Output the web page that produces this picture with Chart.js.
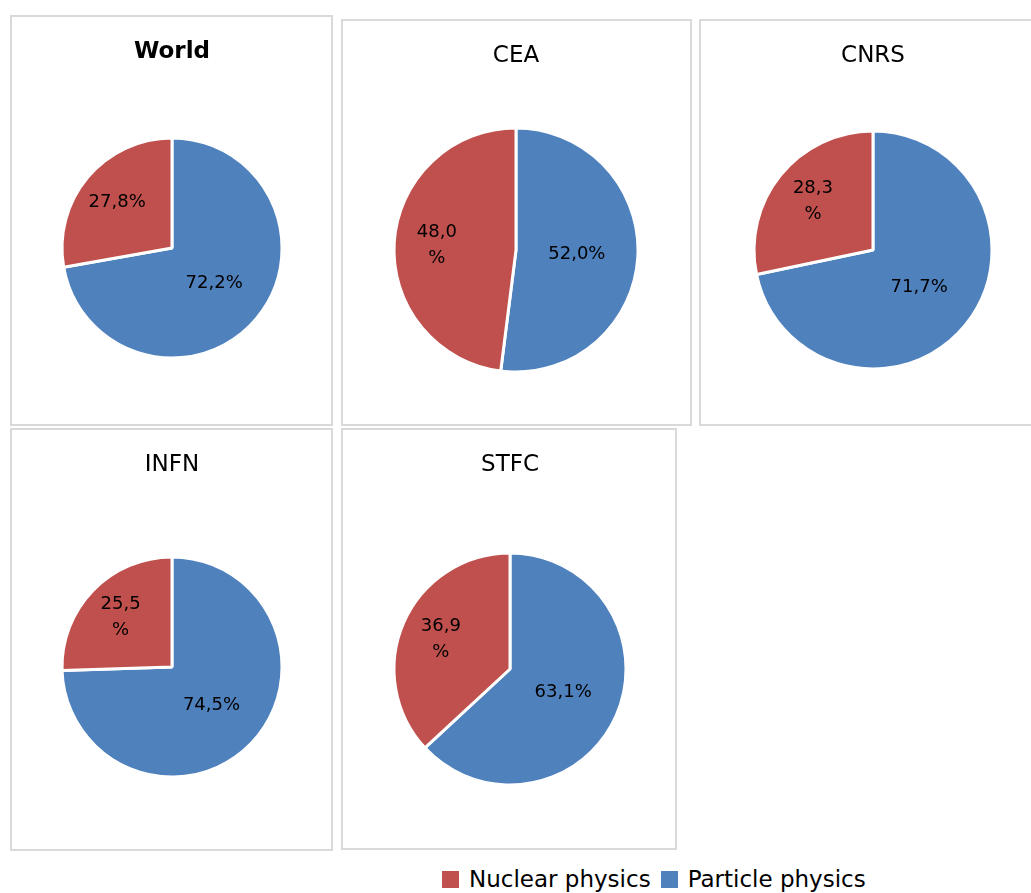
<!DOCTYPE html>
<html>
<head>
<meta charset="utf-8">
<script src="https://cdn.jsdelivr.net/npm/chart.js@4/dist/chart.umd.min.js"></script>
<style>
  html, body { margin: 0; padding: 0; background: #fff; overflow: hidden; }
  body { width: 1031px; height: 893px; position: relative; font-family: "DejaVu Sans", sans-serif; }
  .panel { position: absolute; box-sizing: border-box; border: 2px solid #d9d9d9; background: #fff; }
  .panel canvas { display: block; }
  #legend { position: absolute; left: 442px; top: 866px; display: flex; align-items: center;
            font-size: 23px; color: #000; white-space: nowrap; }
  #legend .sw { width: 17px; height: 17px; display: inline-block; margin-right: 10px; }
  #legend .item { display: flex; align-items: center; margin-right: 10px; }
</style>
</head>
<body>
<div id="legend"></div>

<script>
// data
const institutes = ['World', 'CEA', 'CNRS', 'INFN', 'STFC'];
const seriesNames = ['Nuclear physics', 'Particle physics'];
const nuclearShares = [27.8, 48.0, 28.3, 25.5, 36.9];
const particleShares = [72.2, 52.0, 71.7, 74.5, 63.1];
const wrapNuclearLabel = [false, true, true, true, true];

const nuclearColor = '#C0504D';
const particleColor = '#4F81BD';

// panel boxes (page px) and pie placement
const panels = [
    { x: 10,  y: 15,  w: 323, h: 411, titleY: 52,  cx: 172, cy: 248, r: 110, bold: true },
    { x: 341, y: 19,  w: 351, h: 407, titleY: 56,  cx: 516, cy: 250, r: 122 },
    { x: 699, y: 19,  w: 340, h: 407, titleY: 56,  cx: 873, cy: 250, r: 119 },
    { x: 10,  y: 428, w: 323, h: 423, titleY: 465, cx: 172, cy: 667, r: 110 },
    { x: 341, y: 428, w: 336, h: 422, titleY: 465, cx: 510, cy: 669, r: 116 }
];

const FONT = '"DejaVu Sans", sans-serif';
const TITLE_SIZE = 23;

function fmt(v) {
    return v.toFixed(1).replace('.', ',') + '%';
}

// draws the percentage labels inside the slices
const sliceLabels = {
    id: 'sliceLabels',
    afterDatasetsDraw(chart) {
        const ctx = chart.ctx;
        const meta = chart.getDatasetMeta(0);
        const texts = chart.options.plugins.sliceLabels.texts;
        ctx.save();
        ctx.font = '18px ' + FONT;
        ctx.fillStyle = '#000';
        ctx.textAlign = 'center';
        ctx.textBaseline = 'middle';
        meta.data.forEach(function (arc, i) {
            const p = arc.getProps(['x', 'y', 'startAngle', 'endAngle', 'outerRadius'], true);
            const mid = (p.startAngle + p.endAngle) / 2;
            const f = i === 1 ? 0.65 : 0.5;
            const lx = p.x + Math.cos(mid) * p.outerRadius * f;
            const ly = p.y + Math.sin(mid) * p.outerRadius * f;
            const lines = texts[i].split('\n');
            const lh = 26;
            lines.forEach(function (t, k) {
                ctx.fillText(t, lx, ly + (k - (lines.length - 1) / 2) * lh);
            });
        });
        ctx.restore();
    }
};

institutes.forEach(function (name, i) {
    const p = panels[i];
    const div = document.createElement('div');
    div.className = 'panel';
    div.style.left = p.x + 'px';
    div.style.top = p.y + 'px';
    div.style.width = p.w + 'px';
    div.style.height = p.h + 'px';
    const canvas = document.createElement('canvas');
    const W = p.w - 4, H = p.h - 4;
    canvas.width = W;
    canvas.height = H;
    canvas.style.width = W + 'px';
    canvas.style.height = H + 'px';
    div.appendChild(canvas);
    document.body.appendChild(div);

    const ox = p.x + 2, oy = p.y + 2;
    const titleH = TITLE_SIZE * 1.2;
    const padTop = p.titleY - oy - titleH / 2;
    const areaTop = p.cy - p.r - 1.5 - oy;
    const padBottom = areaTop - padTop - titleH;
    const layoutBottom = H - (p.cy + p.r + 1.5 - oy);
    const relCx = p.cx - ox;
    const left = Math.max(0, 2 * relCx - W);
    const right = Math.max(0, W - 2 * relCx);

    const nucLabel = wrapNuclearLabel[i]
        ? nuclearShares[i].toFixed(1).replace('.', ',') + '\n%'
        : fmt(nuclearShares[i]);

    new Chart(canvas, {
        type: 'pie',
        data: {
            labels: [seriesNames[1], seriesNames[0]],
            datasets: [{
                data: [particleShares[i], nuclearShares[i]],
                backgroundColor: [particleColor, nuclearColor],
                borderColor: '#fff',
                borderWidth: 3,
                hoverOffset: 0,
                offset: 0
            }]
        },
        options: {
            responsive: false,
            animation: false,
            events: [],
            layout: { padding: { top: 0, bottom: layoutBottom, left: left, right: right } },
            plugins: {
                legend: { display: false },
                tooltip: { enabled: false },
                title: {
                    display: true,
                    text: name,
                    color: '#000',
                    font: { family: FONT, size: TITLE_SIZE, weight: p.bold ? 'bold' : 'normal' },
                    padding: { top: padTop, bottom: padBottom }
                },
                sliceLabels: { texts: [fmt(particleShares[i]), nucLabel] }
            }
        },
        plugins: [sliceLabels]
    });
});

// shared legend
const legend = document.getElementById('legend');
[nuclearColor, particleColor].forEach(function (c, i) {
    const item = document.createElement('span');
    item.className = 'item';
    const sw = document.createElement('span');
    sw.className = 'sw';
    sw.style.background = c;
    item.appendChild(sw);
    item.appendChild(document.createTextNode(seriesNames[i]));
    legend.appendChild(item);
});
</script>
</body>
</html>
